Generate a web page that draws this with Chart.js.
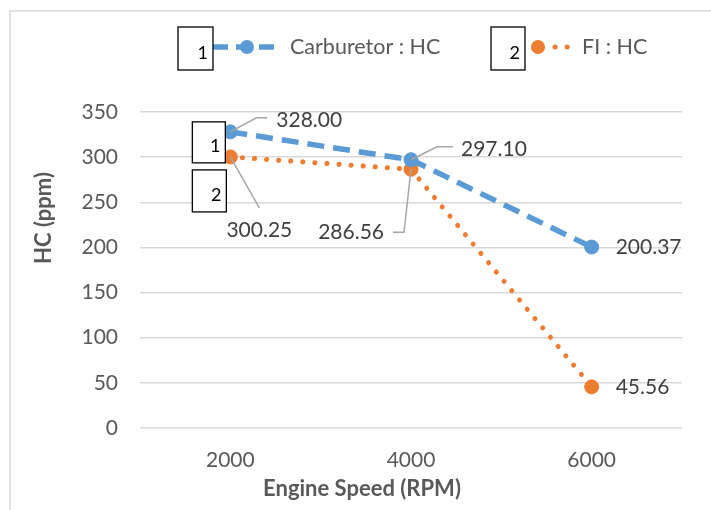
<!DOCTYPE html>
<html><head><meta charset="utf-8">
<script src="https://cdn.jsdelivr.net/npm/chart.js@4"></script>
<style>html,body{margin:0;padding:0;background:#fff;overflow:hidden}</style>
</head><body>
<canvas id="c" width="711" height="510" style="width:711px;height:510px;display:block"></canvas>
<script>
// ---- data ----
const categories = ['2000', '4000', '6000'];
const carburetorHC = [328.00, 297.10, 200.37];
const fiHC = [300.25, 286.56, 45.56];
const yTicks = [0, 50, 100, 150, 200, 250, 300, 350];
const seriesNames = ['Carburetor : HC', 'FI : HC'];
const xTitle = 'Engine Speed (RPM)';
const yTitle = 'HC (ppm)';

// ---- styles ----
const BLUE = '#5b9bd5', ORANGE = '#ed7d31';
const FONT = 'Lato, "Open Sans", sans-serif';
const TXT = '#595959', LBL = '#404040', LEAD = '#a6a6a6';

// label placement (offsets from each point), per series
const labelSpecs = [
  [ {leader: [[26,-14],[37,-14]], text: [46,-12], align: 'left'},
    {leader: [[26,-13],[42,-13]], text: [50,-11], align: 'left'},
    {leader: null, text: [24,0], align: 'left'} ],
  [ {leader: [[29,51]], text: [29,73], align: 'center'},
    {leader: [[-7,63],[-18,63]], text: [-27,63], align: 'right'},
    {leader: null, text: [24,0], align: 'left'} ]
];

function box(ctx, x, y, w, h, num) {
  ctx.save();
  ctx.fillStyle = '#fff';
  ctx.fillRect(x, y, w, h);
  ctx.strokeStyle = '#000';
  ctx.lineWidth = 1.3;
  ctx.strokeRect(x, y, w, h);
  ctx.fillStyle = '#000';
  ctx.font = '18px ' + FONT;
  ctx.textAlign = 'right';
  ctx.textBaseline = 'alphabetic';
  ctx.fillText(num, x + w - 5, y + h - 11);
  ctx.restore();
}

const deco = {
  id: 'deco',
  beforeDraw(chart) {
    const ctx = chart.ctx;
    ctx.save();
    ctx.fillStyle = '#fff';
    ctx.fillRect(0, 0, chart.width, chart.height);
    ctx.strokeStyle = '#d9d9d9';
    ctx.lineWidth = 1.5;
    ctx.beginPath();
    ctx.moveTo(10, 510); ctx.lineTo(10, 11); ctx.lineTo(711, 11);
    ctx.stroke();
    ctx.restore();
  },
  afterDraw(chart) {
    const ctx = chart.ctx;
    ctx.save();
    // axis titles
    ctx.fillStyle = TXT;
    ctx.font = 'bold 22px ' + FONT;
    ctx.textAlign = 'center';
    ctx.textBaseline = 'middle';
    ctx.fillText(xTitle, 362, 489);
    ctx.save();
    ctx.translate(44, 218);
    ctx.rotate(-Math.PI / 2);
    ctx.fillText(yTitle, 0, 0);
    ctx.restore();

    // data labels with leader lines
    ctx.font = '21px ' + FONT;
    ctx.textBaseline = 'middle';
    [0, 1].forEach(di => {
      const meta = chart.getDatasetMeta(di);
      meta.data.forEach((pt, i) => {
        const s = labelSpecs[di][i];
        if (s.leader) {
          ctx.strokeStyle = LEAD;
          ctx.lineWidth = 1.5;
          ctx.beginPath();
          ctx.moveTo(pt.x, pt.y);
          s.leader.forEach(p => ctx.lineTo(pt.x + p[0], pt.y + p[1]));
          ctx.stroke();
        }
        const v = chart.data.datasets[di].data[i];
        ctx.fillStyle = LBL;
        ctx.textAlign = s.align;
        ctx.fillText(v.toFixed(2), pt.x + s.text[0], pt.y + s.text[1]);
      });
    });

    // numbered boxes near first points
    const p0 = chart.getDatasetMeta(0).data[0];
    const p1 = chart.getDatasetMeta(1).data[0];
    box(ctx, p0.x - 38, p0.y - 10, 33, 41, '1');
    box(ctx, p1.x - 38, p1.y + 13, 34, 42, '2');

    // legend
    const ly = 47;
    ctx.strokeStyle = BLUE; ctx.lineWidth = 5.5; ctx.setLineDash([15, 8]);
    ctx.beginPath(); ctx.moveTo(213, ly); ctx.lineTo(278, ly); ctx.stroke();
    ctx.setLineDash([]);
    ctx.fillStyle = BLUE;
    ctx.beginPath(); ctx.arc(247, ly, 7, 0, Math.PI * 2); ctx.fill();
    ctx.strokeStyle = ORANGE; ctx.lineWidth = 5; ctx.lineCap = 'round'; ctx.setLineDash([0.1, 12]);
    ctx.beginPath(); ctx.moveTo(555, ly); ctx.lineTo(570, ly); ctx.stroke();
    ctx.setLineDash([]); ctx.lineCap = 'butt';
    ctx.fillStyle = ORANGE;
    ctx.beginPath(); ctx.arc(538, ly, 7, 0, Math.PI * 2); ctx.fill();
    ctx.fillStyle = TXT;
    ctx.font = '21.5px ' + FONT;
    ctx.textAlign = 'left';
    ctx.textBaseline = 'middle';
    ctx.fillText(seriesNames[0], 290, ly);
    ctx.fillText(seriesNames[1], 582, ly);
    box(ctx, 178, 27, 35, 43, '1');
    box(ctx, 491, 27, 34, 43, '2');
    ctx.restore();
  }
};

new Chart(document.getElementById('c'), {
  type: 'line',
  data: {
    labels: categories,
    datasets: [
      { label: seriesNames[0], data: carburetorHC, borderColor: BLUE, backgroundColor: BLUE,
        borderWidth: 5.5, borderDash: [17, 9], pointRadius: 7, pointBorderWidth: 1,
        pointBorderColor: BLUE, pointBackgroundColor: BLUE, tension: 0, fill: false },
      { label: seriesNames[1], data: fiHC, borderColor: ORANGE, backgroundColor: ORANGE,
        borderWidth: 5, borderDash: [0.1, 12], borderCapStyle: 'round', pointRadius: 7,
        pointBorderWidth: 1, pointBorderColor: ORANGE, pointBackgroundColor: ORANGE, tension: 0, fill: false }
    ]
  },
  options: {
    responsive: false,
    animation: false,
    devicePixelRatio: 1,
    layout: { padding: { left: 0, right: 29, top: 112, bottom: 0 } },
    plugins: { legend: { display: false }, tooltip: { enabled: false } },
    scales: {
      x: {
        type: 'category', offset: true,
        grid: { display: false, drawTicks: false },
        border: { display: false },
        ticks: { color: TXT, font: { family: FONT, size: 21 }, padding: 20, maxRotation: 0 },
        afterFit: s => { s.height = 82; }
      },
      y: {
        min: 0, max: 350,
        afterBuildTicks: s => { s.ticks = yTicks.map(v => ({ value: v })); },
        grid: { color: '#d9d9d9', lineWidth: 1.5, drawTicks: false },
        border: { display: false },
        ticks: { color: TXT, font: { family: FONT, size: 21 }, padding: 22 },
        afterFit: s => { s.width = 140; }
      }
    }
  },
  plugins: [deco]
});
</script>
</body></html>
